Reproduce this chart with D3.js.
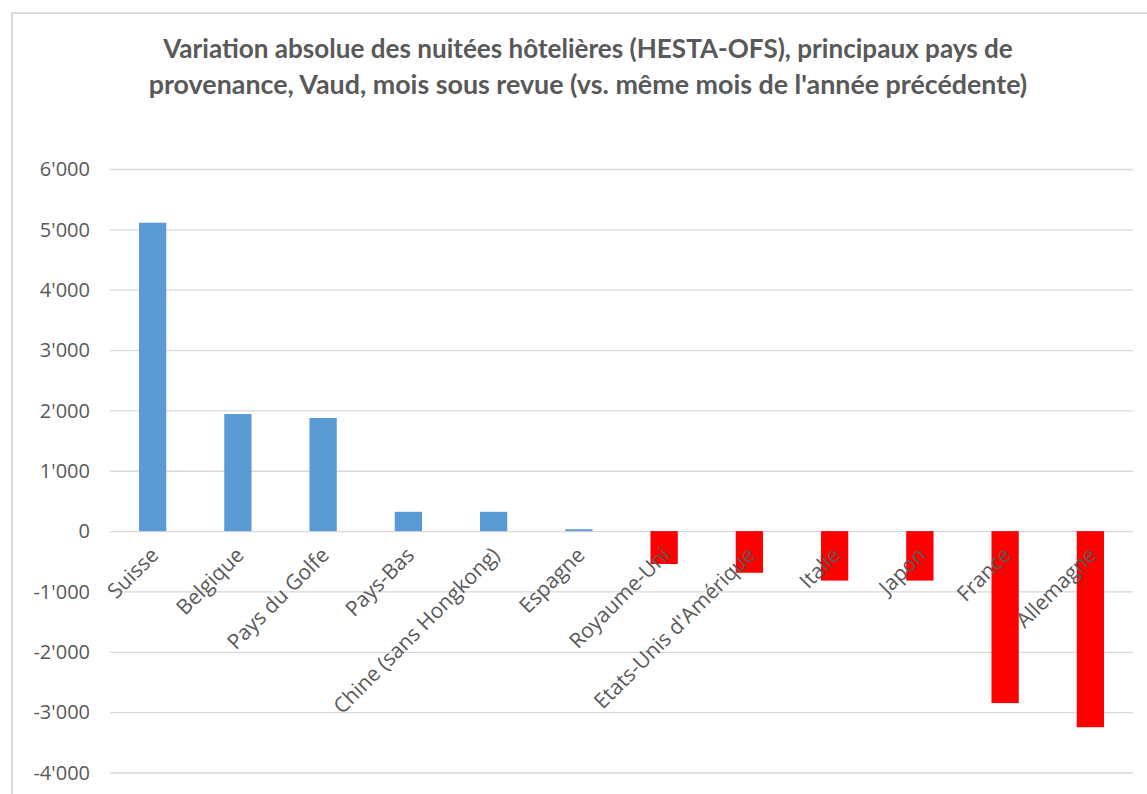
<!DOCTYPE html>
<html>
<head>
<meta charset="utf-8">
<script src="https://cdn.jsdelivr.net/npm/d3@7"></script>
<style>
  html, body { margin: 0; padding: 0; background: #fff; }
  svg { display: block; }
</style>
</head>
<body>
<svg id="chart" width="1147" height="794"></svg>
<script>
const categories = ["Suisse", "Belgique", "Pays du Golfe", "Pays-Bas", "Chine (sans Hongkong)", "Espagne",
  "Royaume-Uni", "Etats-Unis d'Amérique", "Italie", "Japon", "France", "Allemagne"];
const values = [5110, 1940, 1875, 320, 320, 30, -545, -690, -820, -820, -2850, -3250];
const yTicks = [6000, 5000, 4000, 3000, 2000, 1000, 0, -1000, -2000, -3000, -4000];
const titleLines = ["Variation absolue des nuitées hôtelières (HESTA-OFS), principaux pays de",
  "provenance, Vaud, mois sous revue (vs. même mois de l'année précédente)"];

const svg = d3.select("#chart");
const W = 1147, H = 794;
const plot = { left: 110, right: 1133, top: 169, bottom: 772.5 };
const textColor = "#595959";

// chart border
svg.append("rect").attr("x", 12).attr("y", 13).attr("width", W + 20).attr("height", H + 20)
  .attr("fill", "#fff").attr("stroke", "#d9d9d9").attr("stroke-width", 2);

const x = d3.scaleBand().domain(categories).range([plot.left, plot.right]).paddingInner(0.68).paddingOuter(0.34);
const y = d3.scaleLinear().domain([-4000, 6000]).range([plot.bottom, plot.top]);

const fmt = v => d3.format(",")(v).replace(/,/g, "'").replace("−", "-");

// gridlines via axis
const yAxis = d3.axisLeft(y).tickValues(yTicks).tickSize(-(plot.right - plot.left)).tickPadding(20).tickFormat(fmt);
const gy = svg.append("g").attr("transform", `translate(${plot.left},0)`).call(yAxis);
gy.select(".domain").remove();
gy.selectAll(".tick line").attr("stroke", "#d9d9d9").attr("stroke-width", 1.3);
gy.selectAll(".tick text").attr("fill", textColor).attr("font-family", "'Open Sans', sans-serif")
  .attr("font-size", 20).attr("x", -20).attr("dy", "0.34em");

// bars
svg.append("g").selectAll("rect").data(categories).join("rect")
  .attr("x", d => x(d))
  .attr("width", x.bandwidth())
  .attr("y", (d, i) => y(Math.max(0, values[i])))
  .attr("height", (d, i) => Math.abs(y(values[i]) - y(0)))
  .attr("fill", (d, i) => values[i] >= 0 ? "#5b9bd5" : "#ff0000");

// x labels rotated
const xAxis = d3.axisBottom(x).tickSize(0).tickPadding(0);
const gx = svg.append("g").attr("transform", `translate(0,${y(0)})`).call(xAxis);
gx.select(".domain").remove();
gx.selectAll(".tick text")
  .attr("fill", textColor).attr("font-family", "'Open Sans', sans-serif").attr("font-size", 21)
  .attr("text-anchor", "end")
  .attr("x", 0).attr("y", 0).attr("dy", "0.35em")
  .attr("transform", "translate(2,20) rotate(-45)");

// title
const title = svg.append("g");
const targetW = [850, 879];
titleLines.forEach((t, i) => {
  const tx = title.append("text").text(t).attr("x", 588).attr("y", 58 + i * 36)
    .attr("text-anchor", "middle").attr("fill", textColor)
    .attr("font-family", "Lato, sans-serif").attr("font-weight", "bold").attr("font-size", 22);
  const w = tx.node().getComputedTextLength();
  tx.attr("font-size", 22 * targetW[i] / w);
});
</script>
</body>
</html>
